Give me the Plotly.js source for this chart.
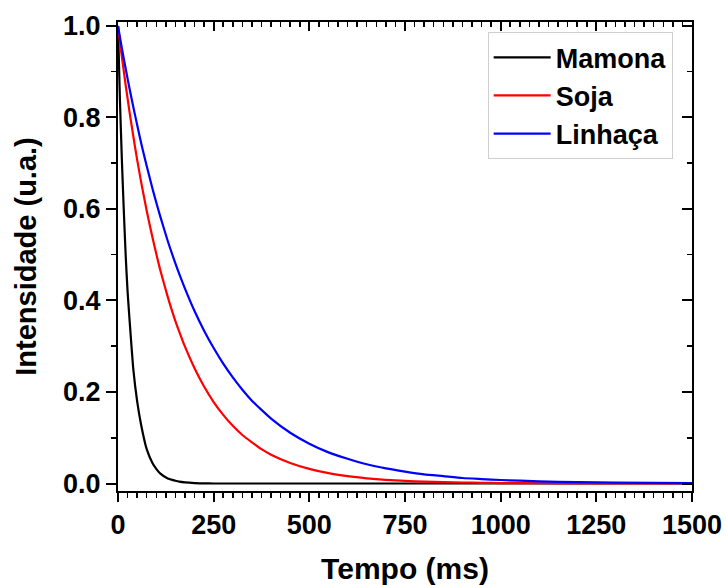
<!DOCTYPE html>
<html>
<head>
<meta charset="utf-8">
<script src="https://cdn.plot.ly/plotly-3.0.1.min.js"></script>
<style>
html,body{margin:0;padding:0;background:#fff;}
#chart{width:726px;height:585px;}
</style>
</head>
<body>
<div id="chart"></div>
<script>
// Time axis (ms) sample points
const tempo = [0, 5, 10, 15, 20, 25, 30, 40, 50, 60, 75, 90, 100, 110, 130, 150, 160, 175, 200, 225,
               250, 275, 300, 325, 350, 375, 400, 450, 500, 550, 600, 650, 700, 750, 800, 850, 900, 950,
               1000, 1100, 1200, 1300, 1500];

// Intensity (u.a.)
const mamona = [1.0, 0.84, 0.71, 0.60, 0.50, 0.42, 0.36, 0.25, 0.18, 0.13, 0.075, 0.045, 0.032, 0.022, 0.011, 0.006, 0.004, 0.0024, 0.001, 0.0004,
                0, 0, 0, 0, 0, 0, 0, 0, 0, 0, 0, 0, 0, 0, 0, 0, 0, 0,
                0, 0, 0, 0, 0];
const soja   = [1.0, 0.966, 0.933, 0.902, 0.871, 0.842, 0.813, 0.759, 0.708, 0.661, 0.596, 0.538, 0.502, 0.468, 0.408, 0.355, 0.332, 0.299, 0.252, 0.212,
                0.178, 0.150, 0.126, 0.106, 0.090, 0.075, 0.063, 0.045, 0.032, 0.0225, 0.016, 0.0113, 0.008, 0.0057, 0.004, 0.0028, 0.002, 0.0014,
                0.001, 0.0005, 0.0003, 0.0001, 0.0];
const linhaca= [1.0, 0.976, 0.952, 0.929, 0.907, 0.885, 0.864, 0.823, 0.784, 0.746, 0.694, 0.645, 0.614, 0.585, 0.530, 0.481, 0.458, 0.426, 0.377, 0.334,
                0.296, 0.262, 0.232, 0.205, 0.181, 0.161, 0.142, 0.111, 0.087, 0.068, 0.054, 0.042, 0.033, 0.026, 0.020, 0.016, 0.012, 0.0097,
                0.0076, 0.0047, 0.0029, 0.0018, 0.0007];

const seriesNames = ["Mamona", "Soja", "Linhaça"];
const seriesColors = ["#000000", "#ff0000", "#0000ff"];
const seriesValues = [mamona, soja, linhaca];

const xTickVals = [0, 250, 500, 750, 1000, 1250, 1500];
const yTickVals = [0.0, 0.2, 0.4, 0.6, 0.8, 1.0];
const yTickText = ["0.0", "0.2", "0.4", "0.6", "0.8", "1.0"];

const xRange = [0, 1500];
const yRange = [-0.0164, 1.0087];

const FONT = "Liberation Sans, Arial, sans-serif";

const traces = seriesValues.map((vals, i) => ({
  x: tempo,
  y: vals,
  name: seriesNames[i],
  type: "scatter",
  mode: "lines",
  line: {color: seriesColors[i], width: 2.2, shape: "spline", smoothing: 0.5}
}));
// empty helper trace so the mirrored (top/right) axes are drawn
traces.push({x: [], y: [], xaxis: "x2", yaxis: "y2", showlegend: false, hoverinfo: "skip", type: "scatter", mode: "lines"});

const layout = {
  width: 726,
  height: 585,
  margin: {l: 118, r: 34, t: 22, b: 94},
  paper_bgcolor: "#ffffff",
  plot_bgcolor: "#ffffff",
  font: {family: FONT, color: "#000000"},
  showlegend: true,
  legend: {
    x: 0.644, y: 0.978, xanchor: "left", yanchor: "top",
    bgcolor: "#ffffff", bordercolor: "#cfcfcf", borderwidth: 1,
    font: {family: FONT, size: 27, weight: "bold", color: "#000"},
    tracegroupgap: 0, itemwidth: 57
  },
  xaxis: {
    range: xRange, tickvals: xTickVals, ticktext: xTickVals.map(String),
    ticks: "outside", ticklen: 9, tickwidth: 2, tickcolor: "#000",
    minor: {dtick: 25, ticks: "outside", ticklen: 5, tickwidth: 1.5, tickcolor: "#000", showgrid: false},
    showline: true, linewidth: 2, linecolor: "#000", showgrid: false, zeroline: false,
    tickfont: {family: FONT, size: 27, weight: "bold"},
    title: {text: "Tempo (ms)", font: {family: FONT, size: 30, weight: "bold"}, standoff: 22}
  },
  yaxis: {
    range: yRange, tickvals: yTickVals, ticktext: yTickText,
    ticks: "outside", ticklen: 10, tickwidth: 2, tickcolor: "#000",
    minor: {dtick: 0.1, tick0: 0, ticks: "outside", ticklen: 5, tickwidth: 1.5, tickcolor: "#000", showgrid: false},
    showline: true, linewidth: 2, linecolor: "#000", showgrid: false, zeroline: false,
    tickfont: {family: FONT, size: 27, weight: "bold"},
    title: {text: "Intensidade (u.a.)", font: {family: FONT, size: 29, weight: "bold"}, standoff: 18}
  },
  xaxis2: {
    overlaying: "x", side: "top", anchor: "y2", range: xRange, tickvals: xTickVals,
    showticklabels: false, ticks: "inside", ticklen: 9, tickwidth: 2, tickcolor: "#000",
    minor: {dtick: 25, ticks: "inside", ticklen: 5, tickwidth: 1.5, tickcolor: "#000", showgrid: false},
    showline: true, linewidth: 2, linecolor: "#000", showgrid: false, zeroline: false
  },
  yaxis2: {
    overlaying: "y", side: "right", anchor: "x2", range: yRange, tickvals: yTickVals,
    showticklabels: false, ticks: "inside", ticklen: 10, tickwidth: 2, tickcolor: "#000",
    minor: {dtick: 0.1, tick0: 0, ticks: "inside", ticklen: 5, tickwidth: 1.5, tickcolor: "#000", showgrid: false},
    showline: true, linewidth: 2, linecolor: "#000", showgrid: false, zeroline: false
  }
};

Plotly.newPlot("chart", traces, layout, {staticPlot: true, displayModeBar: false});
</script>
</body>
</html>
